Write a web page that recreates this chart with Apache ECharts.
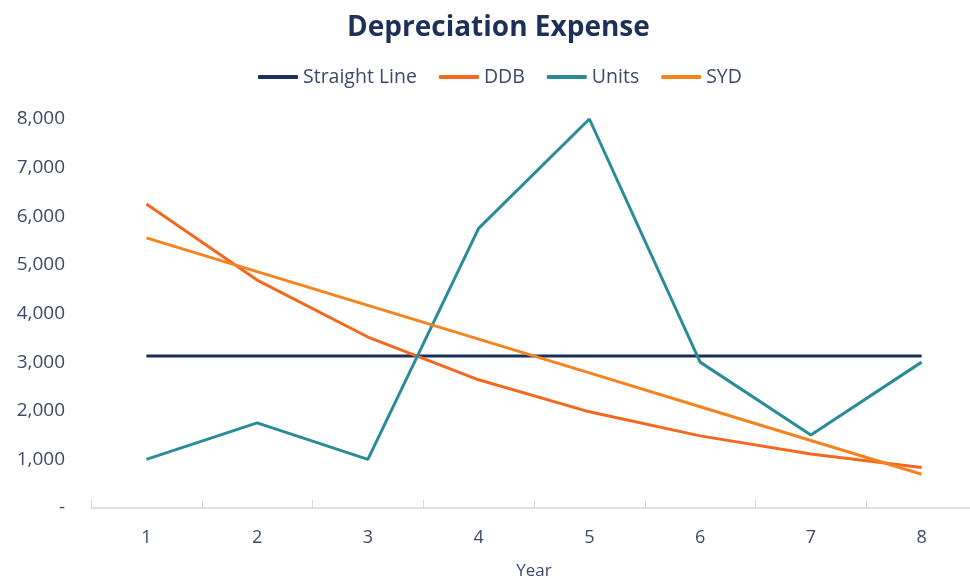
<!DOCTYPE html>
<html>
<head>
<meta charset="utf-8">
<script src="https://cdn.jsdelivr.net/npm/echarts@6/dist/echarts.min.js"></script>
<style>
html,body{margin:0;padding:0;background:#fff;}
#chart{width:970px;height:581px;}
</style>
</head>
<body>
<div id="chart"></div>
<script>
const years = ['1','2','3','4','5','6','7','8'];
const straightLine = [3125,3125,3125,3125,3125,3125,3125,3125];
const ddb = [6250,4688,3516,2637,1978,1483,1112,834];
const units = [1000,1750,1000,5750,8000,3000,1500,3000];
const syd = [5556,4861,4167,3472,2778,2083,1389,694];
const seriesNames = ['Straight Line','DDB','Units','SYD'];
const colors = ['#1b2f5b','#f4691f','#2a8c98','#f5841f'];

const font = 'Open Sans';
const textColor = '#3b4a6b';
const chart = echarts.init(document.getElementById('chart'));
const mk = (name, data, color) => ({
  name, type: 'line', data, symbol: 'none', smooth: false,
  lineStyle: { width: 3, color }, itemStyle: { color }
});
chart.setOption({
  animation: false,
  textStyle: { fontFamily: font },
  title: {
    text: 'Depreciation Expense', left: 342, top: 9,
    textStyle: { fontFamily: font, fontSize: 28, fontWeight: 'bold', color: '#1e3057' }
  },
  legend: {
    top: 62, left: 253, itemWidth: 40, itemHeight: 4, itemGap: 22,
    icon: 'roundRect',
    textStyle: { fontFamily: font, fontSize: 19.5, color: textColor },
    data: seriesNames
  },
  grid: { left: 91, width: 886, top: 119, bottom: 73, outerBoundsMode: 'none' },
  xAxis: {
    type: 'category', data: years, boundaryGap: true,
    name: 'Year', nameLocation: 'middle', nameGap: 55,
    nameTextStyle: { fontFamily: font, fontSize: 17, color: textColor },
    axisLine: { lineStyle: { color: '#d6d6d6', width: 1.5 } },
    axisTick: { show: true, length: 8, inside: true, lineStyle: { color: '#d6d6d6' } },
    axisLabel: { fontFamily: font, fontSize: 18, color: textColor, margin: 21 }
  },
  yAxis: {
    type: 'value', min: 0, max: 8000, interval: 1000,
    splitLine: { show: false },
    axisLine: { show: false }, axisTick: { show: false },
    axisLabel: {
      fontFamily: font, fontSize: 19, color: textColor, margin: 26,
      formatter: v => v === 0 ? '-' : v.toLocaleString('en-US')
    }
  },
  series: [
    mk(seriesNames[0], straightLine, colors[0]),
    mk(seriesNames[1], ddb, colors[1]),
    mk(seriesNames[2], units, colors[2]),
    mk(seriesNames[3], syd, colors[3])
  ]
});
</script>
</body>
</html>
